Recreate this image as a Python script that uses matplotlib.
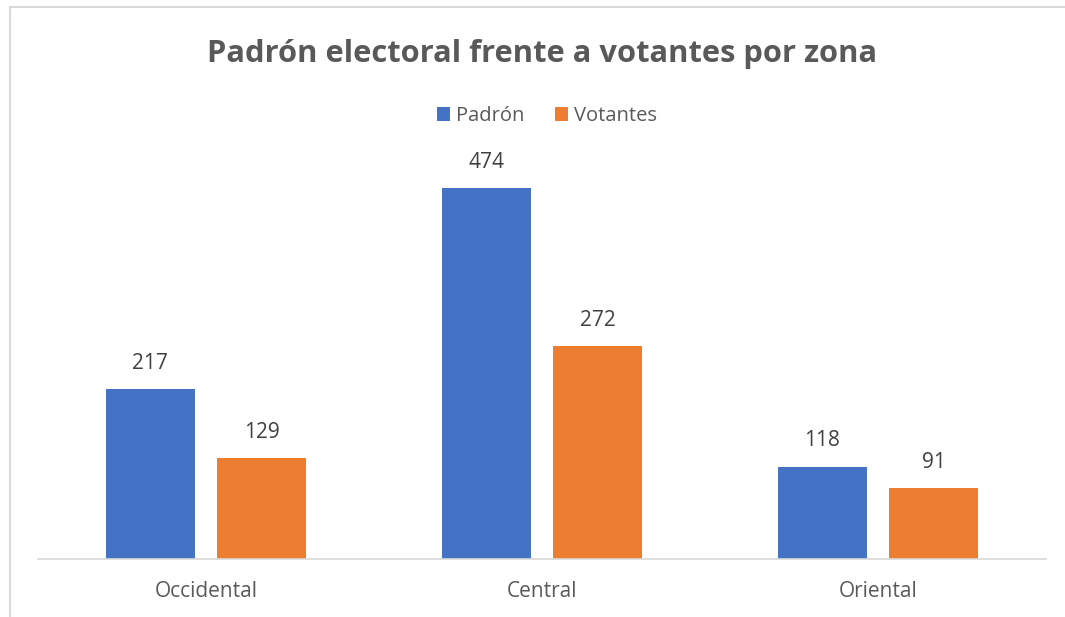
import matplotlib
matplotlib.use("Agg")
import matplotlib.pyplot as plt
from matplotlib.lines import Line2D
from matplotlib.patches import Patch
import numpy as np

categories = ["Occidental", "Central", "Oriental"]
padron = [217, 474, 118]
votantes = [129, 272, 91]
series_names = ["Padrón", "Votantes"]
title = "Padrón electoral frente a votantes por zona"

W, H = 1065, 617
fig = plt.figure(figsize=(W / 100, H / 100), dpi=100)
plt.rcParams['font.family'] = ['Open Sans', 'DejaVu Sans']

blue = "#4472C4"
orange = "#ED7D31"
grid_c = "#D9D9D9"

ax = fig.add_axes([38 / W, (H - 559) / H, (1046 - 38) / W, (559 - 168) / H])
x = np.arange(len(categories))
bw = 0.265
off = 0.1665
b1 = ax.bar(x - off, padron, bw, color=blue)
b2 = ax.bar(x + off, votantes, bw, color=orange)
ax.set_xlim(-0.5, len(categories) - 0.5)
ax.set_ylim(0, 500)
for s in ["top", "right", "left"]:
    ax.spines[s].set_visible(False)
ax.spines["bottom"].set_color(grid_c)
ax.spines["bottom"].set_linewidth(1.2)
ax.set_yticks([])
ax.set_xticks(x)
ax.set_xticklabels(categories, fontsize=15, color="#595959")
ax.tick_params(axis="x", length=0, pad=16)

for bars in (b1, b2):
    for r in bars:
        v = r.get_height()
        ax.annotate(f"{int(v)}", (r.get_x() + r.get_width() / 2, v),
                    xytext=(0, 11), textcoords="offset points",
                    ha="center", va="bottom", fontsize=15, color="#404040")

fig.text(542 / W, 1 - 54 / H, title, ha="center", va="center",
         fontsize=22.2, fontweight="bold", color="#595959")

handles = [Patch(facecolor=blue), Patch(facecolor=orange)]
leg = fig.legend(handles, series_names, loc="center", bbox_to_anchor=(547 / W, 1 - 116 / H),
                 ncol=2, frameon=False, fontsize=14.5, handlelength=0.65, handleheight=0.65,
                 handletextpad=0.3, columnspacing=1.5)
for t in leg.get_texts():
    t.set_color("#595959")

# chart border (partially visible)
fig.add_artist(Line2D([10 / W, 10 / W], [0, 1 - 7 / H], color=grid_c, lw=1.5, transform=fig.transFigure))
fig.add_artist(Line2D([10 / W, 1], [1 - 7 / H, 1 - 7 / H], color=grid_c, lw=1.5, transform=fig.transFigure))

fig.savefig("out.png", dpi=100, facecolor="white")
